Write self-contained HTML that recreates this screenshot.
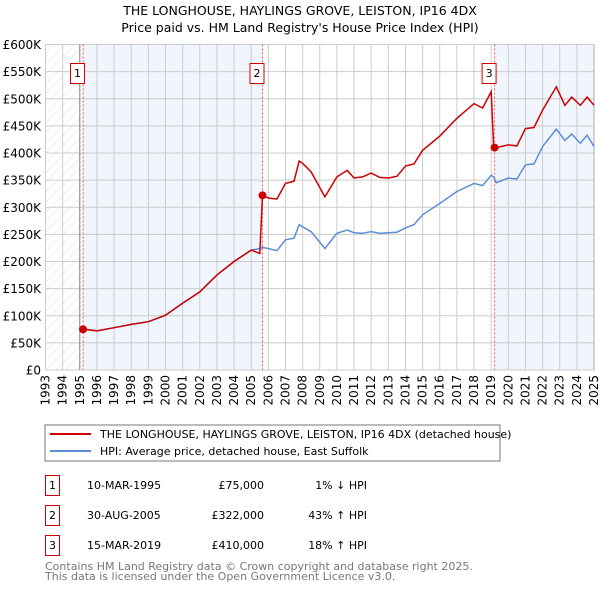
<!DOCTYPE html>
<html><head><meta charset="utf-8"><style>
body{margin:0;background:#fff;font-family:"DejaVu Sans","Liberation Sans",sans-serif;}
svg text{font-family:"DejaVu Sans","Liberation Sans",sans-serif;}
</style></head><body>
<svg id="chart" width="600" height="590" xmlns="http://www.w3.org/2000/svg">
<defs><pattern id="hatch" width="7" height="7" patternUnits="userSpaceOnUse" patternTransform="rotate(45)"><line x1="0" y1="0" x2="0" y2="7" stroke="#d8d8d8" stroke-width="0.8"/></pattern></defs>
<text x="300" y="15" text-anchor="middle" font-size="12.5">THE LONGHOUSE, HAYLINGS GROVE, LEISTON, IP16 4DX</text>
<text x="300" y="32" text-anchor="middle" font-size="12.5">Price paid vs. HM Land Registry's House Price Index (HPI)</text>
<g id="plot"></g>
<rect x="45" y="425" width="455" height="36" fill="#fff" stroke="#777"/>
<line x1="50" y1="434" x2="91" y2="434" stroke="#cc0000" stroke-width="2"/>
<text x="100" y="438" font-size="11">THE LONGHOUSE, HAYLINGS GROVE, LEISTON, IP16 4DX (detached house)</text>
<line x1="50" y1="451" x2="91" y2="451" stroke="#5b8ed6" stroke-width="2"/>
<text x="100" y="455" font-size="11">HPI: Average price, detached house, East Suffolk</text>
<g font-size="11">
<rect x="45.5" y="475.5" width="14" height="20" fill="#fff" stroke="#cc0000"/><text x="52.5" y="489" text-anchor="middle">1</text>
<text x="87" y="489">10-MAR-1995</text><text x="264" y="489" text-anchor="end">£75,000</text><text x="367" y="489" text-anchor="end">1% ↓ HPI</text>
<rect x="45.5" y="505.5" width="14" height="20" fill="#fff" stroke="#cc0000"/><text x="52.5" y="519" text-anchor="middle">2</text>
<text x="87" y="519">30-AUG-2005</text><text x="264" y="519" text-anchor="end">£322,000</text><text x="367" y="519" text-anchor="end">43% ↑ HPI</text>
<rect x="45.5" y="535.5" width="14" height="20" fill="#fff" stroke="#cc0000"/><text x="52.5" y="549" text-anchor="middle">3</text>
<text x="87" y="549">15-MAR-2019</text><text x="264" y="549" text-anchor="end">£410,000</text><text x="367" y="549" text-anchor="end">18% ↑ HPI</text>
</g>
<text x="45" y="570" font-size="11" fill="#777">Contains HM Land Registry data © Crown copyright and database right 2025.</text>
<text x="45" y="580" font-size="11" fill="#777">This data is licensed under the Open Government Licence v3.0.</text>
</svg>
<script>
const yTicks=[0,50000,100000,150000,200000,250000,300000,350000,400000,450000,500000,550000,600000];
const yTickLabels=["£0","£50K","£100K","£150K","£200K","£250K","£300K","£350K","£400K","£450K","£500K","£550K","£600K"];
const years=[1993,1994,1995,1996,1997,1998,1999,2000,2001,2002,2003,2004,2005,2006,2007,2008,2009,2010,2011,2012,2013,2014,2015,2016,2017,2018,2019,2020,2021,2022,2023,2024,2025];
const dates=[1995.2,1996,1997,1998,1999,2000,2001,2002,2003,2004,2005,2005.5,2005.66,2006,2006.5,2007,2007.5,2007.8,2008,2008.5,2009.3,2010,2010.6,2011,2011.5,2012,2012.5,2013,2013.5,2014,2014.5,2015,2016,2017,2018,2018.5,2019,2019.15,2019.3,2020,2020.5,2021,2021.5,2022,2022.8,2023.3,2023.7,2024.2,2024.6,2025];
const hpiValues=[76000,72000,78000,84000,89000,101000,123000,144000,175000,200000,221000,224000,226000,224000,220000,240000,243000,268000,264000,255000,224000,252000,258000,253000,252000,255000,252000,253000,254000,262000,268000,286000,307000,329000,344000,340000,359000,356000,345000,354000,352000,378000,380000,412000,444000,423000,435000,418000,433000,412000];
const priceValues=[75000,72000,78000,84000,89000,101000,123000,144000,175000,200000,221000,215000,322000,317000,315000,344000,348000,385000,381000,365000,319000,356000,368000,354000,356000,363000,355000,354000,357000,376000,380000,405000,431000,464000,491000,483000,513000,410000,410000,415000,413000,445000,447000,479000,522000,488000,503000,488000,503000,488000];
const sales=[[1995.19,75000],[2005.66,322000],[2019.2,410000]];
const saleLabels=["1","2","3"];
const X0=45.5,X1=594,Y0=370,Y1=44.5;
const xs=v=>X0+(v-1993)/(2025-1993)*(X1-X0);
const ys=v=>Y0-(v/600000)*(Y0-Y1);
const g=document.getElementById('plot');const NS="http://www.w3.org/2000/svg";
function mk(t,a){const e=document.createElementNS(NS,t);for(const k in a)e.setAttribute(k,a[k]);g.appendChild(e);return e;}
let e;
e=mk('rect',{x:X0,y:Y1,width:X1-X0,height:Y0-Y1,fill:'#fff'});


e=mk('rect',{x:X0,y:Y1,width:xs(1995.0)-X0,height:Y0-Y1,fill:'url(#hatch)'});


e=mk('rect',{x:xs(sales[0][0]),y:Y1,width:xs(sales[1][0])-xs(sales[0][0]),height:Y0-Y1,fill:'#f1f5fd'});


e=mk('rect',{x:xs(sales[2][0]),y:Y1,width:X1-xs(sales[2][0]),height:Y0-Y1,fill:'#f1f5fd'});


years.forEach(y=>{e=mk('line',{x1:xs(y),x2:xs(y),y1:Y1,y2:Y0,stroke:'#ccc','stroke-width':1});


e=mk('text',{x:0,y:0,'font-size':12,'text-anchor':'end',transform:`translate(${xs(y)+4},${Y0+5}) rotate(-90)`});e.textContent=y;

});
yTicks.forEach((v,i)=>{e=mk('line',{x1:X0,x2:X1,y1:ys(v),y2:ys(v),stroke:'#ccc','stroke-width':1});


e=mk('text',{x:41,y:ys(v)+4.5,'font-size':12,'text-anchor':'end'});e.textContent=yTickLabels[i];

});
e=mk('line',{x1:xs(1995),x2:xs(1995),y1:Y1,y2:Y0,stroke:'#888','stroke-width':1});


e=mk('line',{x1:X1,x2:X1,y1:Y1,y2:Y0,stroke:'#aaa','stroke-width':1});


sales.forEach((s,i)=>{e=mk('line',{x1:xs(s[0]),x2:xs(s[0]),y1:Y1,y2:Y0,stroke:'#e55','stroke-width':1,'stroke-dasharray':'2,2'});

});
const pts=(arr)=>dates.map((d,i)=>xs(d).toFixed(1)+','+ys(arr[i]).toFixed(1)).join(' ');
e=mk('polyline',{points:pts(hpiValues),fill:'none',stroke:'#5b8ed6','stroke-width':1.5});


e=mk('polyline',{points:pts(priceValues),fill:'none',stroke:'#cc0000','stroke-width':1.5});


sales.forEach((s,i)=>{e=mk('circle',{cx:xs(s[0]),cy:ys(s[1]),r:4,fill:'#cc0000'});


const bx=xs(s[0])-6-7;
e=mk('rect',{x:bx+0.5,y:63.5,width:14,height:20,fill:'#fff',stroke:'#cc0000'});


e=mk('text',{x:bx+7.5,y:77,'font-size':11,'text-anchor':'middle'});e.textContent=saleLabels[i];

});
</script>
</body></html>
